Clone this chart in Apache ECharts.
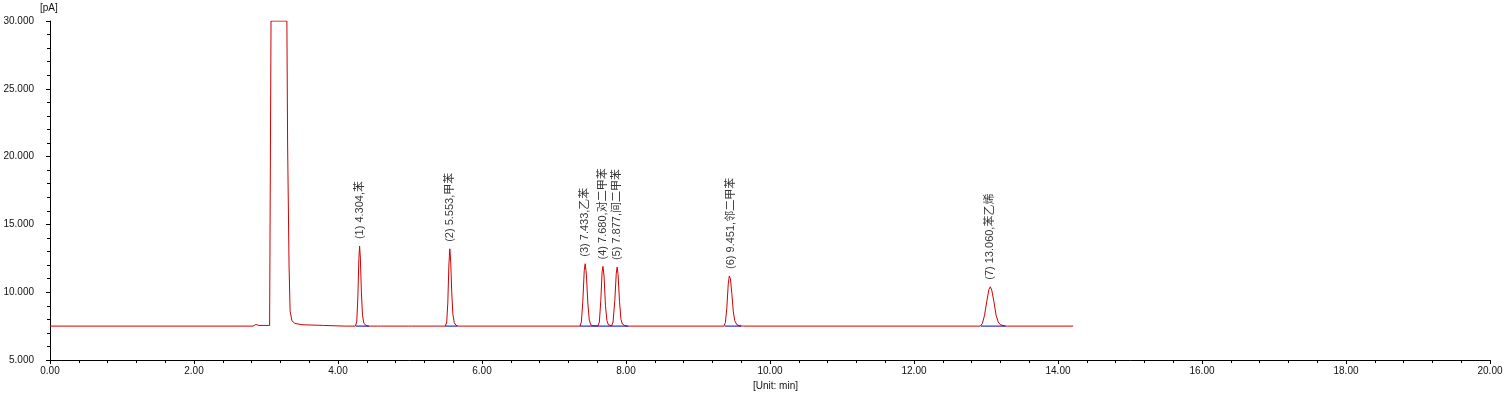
<!DOCTYPE html>
<html><head><meta charset="utf-8">
<script src="https://cdn.jsdelivr.net/npm/echarts@6/dist/echarts.min.js"></script>
<style>html,body{margin:0;padding:0;background:#fff}#c{width:1506px;height:395px}</style>
</head><body><div id="c"></div>
<script>
// Chromatogram trace: [time (min), signal (pA)]
const signalTimes = [0, 2.82, 2.86, 2.90, 3.05, 3.06, 3.07, 3.29, 3.30, 3.32, 3.335, 3.36, 3.40, 3.50, 3.80, 4.10,
  4.24, 4.26, 4.275, 4.29, 4.30, 4.31, 4.325, 4.34, 4.36, 4.39, 4.42, 4.55, 4.57, 4.59, 4.98, 5.00, 5.02,
  5.49, 5.51, 5.525, 5.54, 5.553, 5.565, 5.58, 5.595, 5.615, 5.64, 5.67,
  7.36, 7.38, 7.40, 7.42, 7.433, 7.45, 7.47, 7.49, 7.51, 7.54, 7.57,
  7.61, 7.63, 7.65, 7.668, 7.680, 7.695, 7.715, 7.735, 7.755, 7.78,
  7.80, 7.82, 7.845, 7.865, 7.877, 7.89, 7.91, 7.93, 7.95, 7.98, 8.02,
  9.36, 9.38, 9.40, 9.42, 9.435, 9.45, 9.47, 9.49, 9.51, 9.54, 9.58, 9.63,
  12.92, 12.95, 12.98, 13.01, 13.04, 13.06, 13.08, 13.11, 13.14, 13.17, 13.20, 13.25, 13.29, 14.21];
const signalValues = [7.5, 7.5, 7.62, 7.55, 7.55, 7.6, 30, 30, 21, 12, 8.6, 7.9, 7.7, 7.6, 7.55, 7.5,
  7.5, 7.8, 9.5, 12.5, 13.4, 12.6, 10.0, 8.3, 7.7, 7.55, 7.5, 7.5, 7.57, 7.5, 7.5, 7.58, 7.5,
  7.5, 7.8, 9.2, 12.0, 13.2, 12.3, 10.0, 8.4, 7.75, 7.55, 7.5,
  7.5, 7.8, 9.3, 11.6, 12.1, 11.3, 9.2, 7.95, 7.6, 7.52, 7.52,
  7.52, 7.8, 9.4, 11.5, 11.9, 11.2, 9.0, 7.9, 7.6, 7.52,
  7.52, 7.8, 9.4, 11.4, 11.85, 11.3, 9.3, 8.0, 7.65, 7.55, 7.5,
  7.5, 7.75, 8.8, 10.6, 11.2, 11.0, 9.9, 8.6, 7.9, 7.6, 7.52, 7.5,
  7.5, 7.7, 8.3, 9.3, 10.2, 10.4, 10.15, 9.3, 8.3, 7.8, 7.6, 7.52, 7.5, 7.5];

// Integration baselines (start, end) in min, at baseline level
const baselineStarts = [4.25, 5.49, 7.36, 9.37, 12.93];
const baselineEnds   = [4.43, 5.66, 8.03, 9.60, 13.27];
const baselineLevel = 7.5;

// Peak annotations
const peakTimes   = [4.304, 5.553, 7.433, 7.680, 7.877, 9.451, 13.060];
const peakHeights = [13.4, 13.2, 12.1, 11.9, 11.85, 11.2, 10.4];
const peakLabels  = ['(1) 4.304,苯', '(2) 5.553,甲苯', '(3) 7.433,乙苯', '(4) 7.680,对二甲苯',
                     '(5) 7.877,间二甲苯', '(6) 9.451,邻二甲苯', '(7) 13.060,苯乙烯'];

const FONT = '"Liberation Sans", Arial, "Noto Sans CJK SC", sans-serif';
const traceData = signalTimes.map((t, i) => [t, signalValues[i]]);
const baseData = [];
baselineStarts.forEach((s, i) => { baseData.push([s, baselineLevel], [baselineEnds[i], baselineLevel], [null, null]); });
const labelData = peakTimes.map((t, i) => ({ value: [t, peakHeights[i]], name: peakLabels[i] }));

const chart = echarts.init(document.getElementById('c'), null, { renderer: 'canvas' });
chart.setOption({
  animation: false,
  backgroundColor: '#fff',
  grid: { left: 50, right: 16, top: 21, bottom: 35 },
  xAxis: {
    type: 'value', min: 0, max: 20, interval: 2,
    axisLine: { show: true, onZero: false, lineStyle: { color: '#000', width: 1 } },
    axisTick: { show: true, length: 4, lineStyle: { color: '#000' } },
    minorTick: { show: true, splitNumber: 5, length: 3, lineStyle: { color: '#000' } },
    splitLine: { show: false },
    axisLabel: { color: '#111', fontSize: 10, fontFamily: FONT, margin: 6,
      formatter: v => v.toFixed(2) }
  },
  yAxis: {
    type: 'value', min: 5, max: 30, interval: 5,
    axisLine: { show: true, lineStyle: { color: '#000', width: 1 } },
    axisTick: { show: true, length: 4, lineStyle: { color: '#000' } },
    minorTick: { show: true, splitNumber: 5, length: 3, lineStyle: { color: '#000' } },
    splitLine: { show: false },
    axisLabel: { color: '#111', fontSize: 10, fontFamily: FONT, margin: 16,
      formatter: v => v.toFixed(3) }
  },
  graphic: [
    { type: 'text', left: 40, top: 3, style: { text: '[pA]', fill: '#111', font: '10px ' + FONT } },
    { type: 'text', left: 753, top: 381, style: { text: '[Unit: min]', fill: '#111', font: '10px ' + FONT } }
  ],
  series: [
    { type: 'line', data: traceData, showSymbol: false, symbol: 'none', clip: true,
      lineStyle: { color: '#d00000', width: 1 }, z: 2 },
    { type: 'line', data: baseData, showSymbol: false, symbol: 'none', connectNulls: false,
      lineStyle: { color: '#0000c0', width: 1 }, z: 3 },
    { type: 'scatter', data: labelData, symbolSize: 0, z: 4,
      label: { show: true, position: 'top', distance: 7, rotate: 90, align: 'left', verticalAlign: 'middle',
        color: '#000', fontSize: 11, fontFamily: FONT, formatter: p => p.name } }
  ]
});
</script></body></html>
